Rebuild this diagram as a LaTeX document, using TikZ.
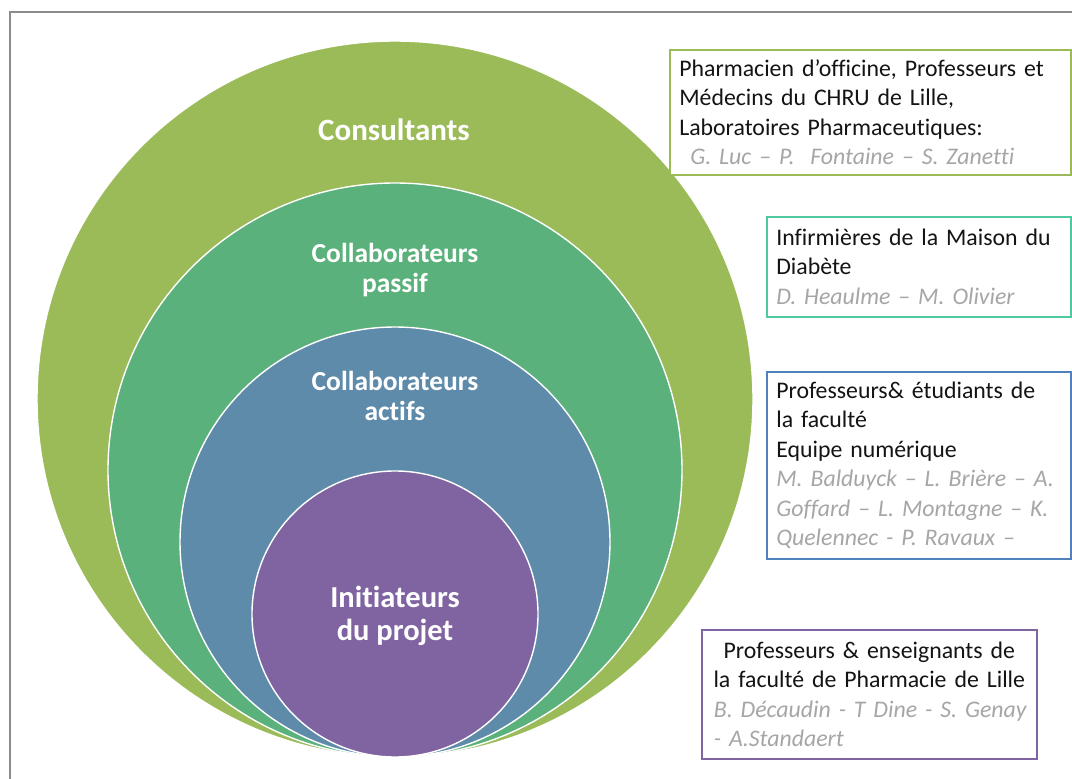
\documentclass[tikz,border=0pt]{standalone}
\usepackage{fontspec}
\setmainfont{Carlito}[Ligatures=NoCommon]
\usetikzlibrary{positioning}
\definecolor{ringConsult}{RGB}{155,187, 89}
\definecolor{ringPassive}{RGB}{ 91,177,123}
\definecolor{ringActive}{RGB}{ 95,139,171}
\definecolor{ringCore}{RGB}{128,100,162}
\definecolor{edgeConsult}{RGB}{155,187, 89}
\definecolor{edgePassive}{RGB}{ 80,200,160}
\definecolor{edgeActive}{RGB}{ 79,129,189}
\definecolor{edgeCore}{RGB}{128,100,162}
\definecolor{boxInk}{RGB}{ 20, 20, 20}
\definecolor{nameGray}{RGB}{166,166,166}
\definecolor{frameGray}{RGB}{140,140,140}
\newcommand{\names}[1]{{\color{nameGray}\itshape #1}}
\tikzset{
  % one of the nested discs, all touching at the bottom
  ring/.style={circle, draw=white, line width=1.4pt, inner sep=0pt, outer sep=0pt},
  ringlabel/.style={font=\fontsize{27.5}{30}\selectfont\bfseries, text=white, align=center},
  % framed legend box on the right
  infobox/.style={draw, line width=2.6pt, fill=white, align=left, anchor=north west,
                  inner xsep=9.5pt, inner ysep=3pt, text=boxInk,
                  font=\fontsize{23.8}{29.5}\selectfont},
}

\begin{document}
\begin{tikzpicture}[x=1pt, y=-1pt]
\useasboundingbox (0,0) rectangle (1072,779);

% frame
\draw[frameGray, line width=1.3pt] (10,779) |- (1072,12);

% ===========================================================================
% NESTED DISCS
% ===========================================================================
\node[ring, fill=ringConsult, minimum size=716pt] (consult) at (395,399) {};
\node[ring, fill=ringPassive, minimum size=574pt] (passive) at (395,470) {};
\node[ring, fill=ringActive,  minimum size=430pt] (active)  at (395,542) {};
\node[ring, fill=ringCore,    minimum size=286pt] (core)    at (395,614) {};

\node[ringlabel, font=\fontsize{31}{32}\selectfont\bfseries] (consultLbl) at (394,130) {Consultants};
\node[ringlabel] (passiveLbl) at (395,270) {Collaborateurs\\passif};
\node[ringlabel] (activeLbl)  at (395,396) {Collaborateurs\\actifs};
\node[ringlabel, font=\fontsize{30.5}{32.5}\selectfont\bfseries] (coreLbl) at (395,616)
      {Initiateurs\\du projet};

% ===========================================================================
% LEGEND BOXES
% ===========================================================================
\node[infobox, draw=edgeConsult, text width=382pt, minimum height=125pt] (consultBox)
      at (668.5,48.5)
      {Pharmacien d’officine, Professeurs et\\
       Médecins du CHRU de Lille,\\
       Laboratoires Pharmaceutiques:\\
       \hspace*{11pt}\names{G. Luc – P.\ \ Fontaine – S. Zanetti}};

\node[infobox, draw=edgePassive, text width=285pt, minimum height=100pt] (passiveBox)
      at (765.5,215.5)
      {Infirmières de la Maison du\\
       Diabète\\
       \names{D. Heaulme – M. Olivier}};

\node[infobox, draw=edgeActive, text width=285pt, minimum height=187pt] (activeBox)
      at (765.5,370.5)
      {Professeurs\& étudiants de\\
       la faculté\\
       Equipe numérique\\
       \names{M. Balduyck – L. Brière – A.\\
       Goffard – L. Montagne – K.\\
       Quelennec - P. Ravaux –}};

\node[infobox, draw=edgeCore, inner xsep=10pt, text width=315pt, minimum height=129pt] (coreBox)
      at (700.5,628.5)
      {{\centering\mbox{Professeurs \& enseignants de}\\
        \mbox{la faculté de Pharmacie de Lille}\par}
       \hspace*{2pt}\names{\mbox{B. Décaudin - T Dine - S. Genay}\\
       \hspace*{2pt}- A.Standaert}};

\end{tikzpicture}
\end{document}
